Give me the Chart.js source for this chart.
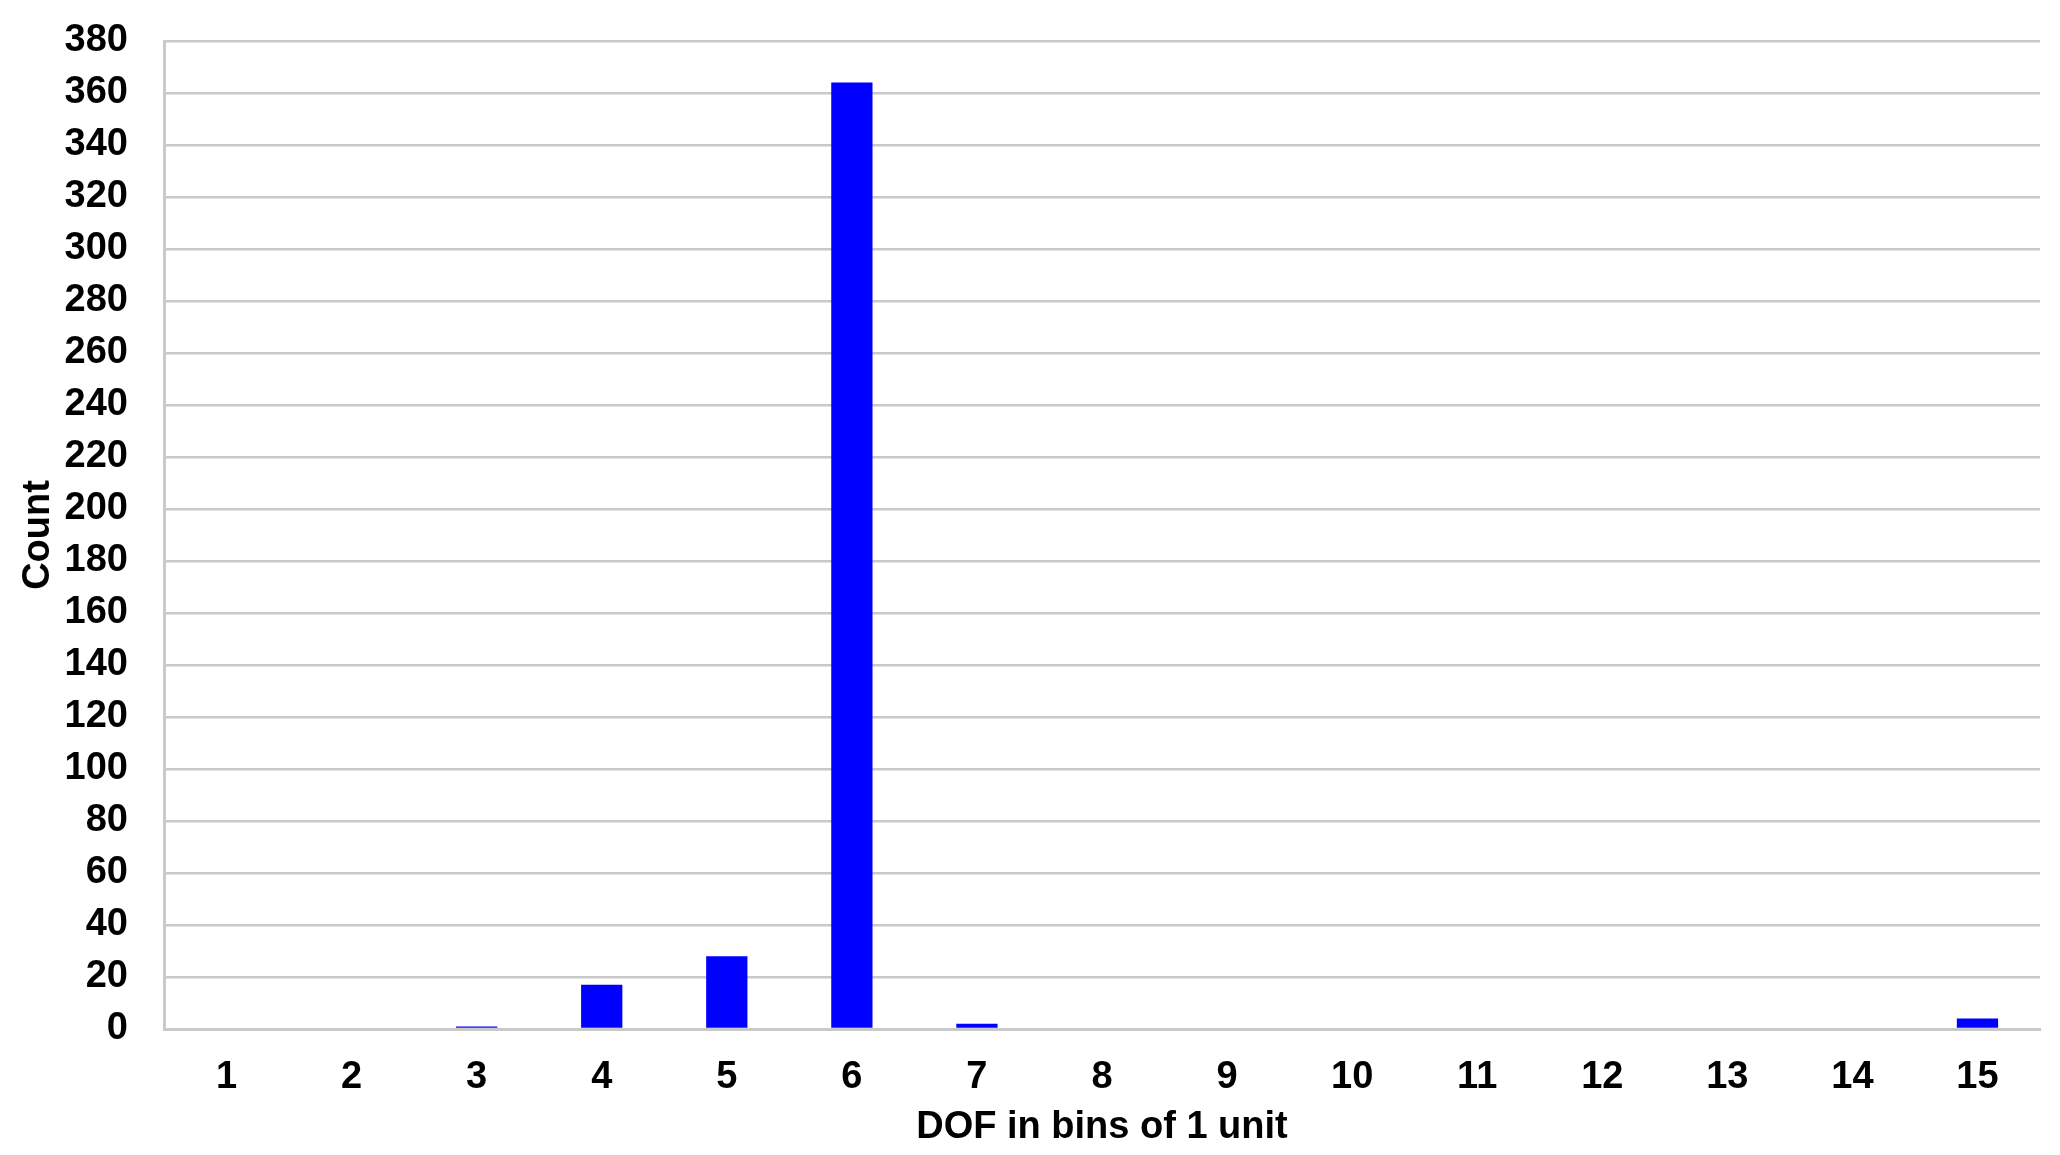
<!DOCTYPE html>
<html>
<head>
<meta charset="utf-8">
<script src="https://cdn.jsdelivr.net/npm/chart.js@4.4.1/dist/chart.umd.min.js"></script>
<style>
  body { margin: 0; background: #fff; }
</style>
</head>
<body>
<canvas id="chart" width="2060" height="1155"></canvas>
<script>
const bins = ['1', '2', '3', '4', '5', '6', '7', '8', '9', '10', '11', '12', '13', '14', '15'];
const counts = [0, 0, 1, 17, 28, 364, 2, 0, 0, 0, 0, 0, 0, 0, 4];
const yMax = 380;
const yStep = 20;

const font = { family: '"Liberation Sans", Arial, sans-serif', size: 38, weight: 'bold' };
const gridColor = '#c9c9c9';

const ctx = document.getElementById('chart').getContext('2d');
new Chart(ctx, {
  type: 'bar',
  data: {
    labels: bins,
    datasets: [{
      label: 'Count',
      data: counts,
      backgroundColor: '#0000ff',
      borderWidth: 0,
      barPercentage: 0.33,
      categoryPercentage: 1.0,
    }],
  },
  options: {
    responsive: false,
    animation: false,
    layout: { padding: { top: 41, right: 20, bottom: 0, left: 16 } },
    plugins: {
      legend: { display: false },
      tooltip: { enabled: false },
    },
    scales: {
      x: {
        grid: { display: false, drawTicks: false },
        border: { color: gridColor, width: 3 },
        ticks: { color: '#000', font: font, padding: 26, maxRotation: 0 },
        title: {
          display: true,
          text: 'DOF in bins of 1 unit',
          color: '#000',
          font: font,
          padding: { top: 0, bottom: 5 },
        },
        afterFit: (scale) => { scale.height = 126; },
      },
      y: {
        min: 0,
        max: yMax,
        grid: { color: gridColor, lineWidth: 2.5, drawTicks: false },
        border: { color: gridColor, width: 3 },
        ticks: { stepSize: yStep, color: '#000', font: font, padding: 36 },
        title: {
          display: true,
          text: 'Count',
          color: '#000',
          font: font,
          padding: { top: 0, bottom: 0 },
        },
        afterFit: (scale) => {
          scale.width = 148;
          scale.paddingTop = 0;
          scale.paddingBottom = 0;
        },
      },
    },
  },
});
</script>
</body>
</html>
